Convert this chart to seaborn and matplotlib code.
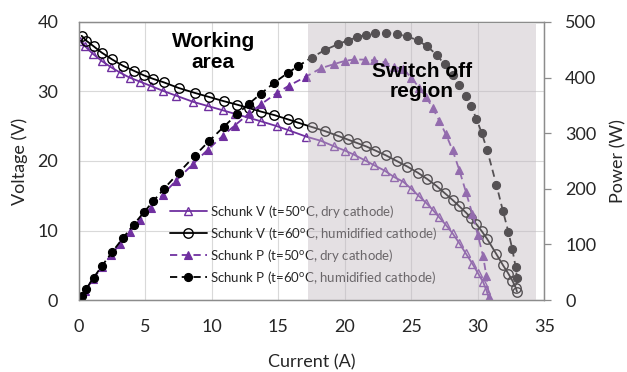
import matplotlib
matplotlib.use("Agg")
import matplotlib.pyplot as plt
from matplotlib.patches import Rectangle
import seaborn as sns

# Stack current (A), voltage (V) and power (W)
current_60 = [0.2, 0.55, 1.1, 1.7, 2.5, 3.3, 4.1, 4.9, 5.6, 6.4, 7.5, 8.7, 9.8, 10.9, 11.9,
              12.8, 13.7, 14.7, 15.7, 16.5, 17.5, 18.5, 19.5, 20.2, 20.9, 21.6, 22.3, 23.1,
              23.9, 24.7, 25.5, 26.2, 26.9, 27.5, 28.1, 28.6, 29.1, 29.5, 29.9, 30.3, 30.7,
              31.4, 31.9, 32.3, 32.6, 32.85, 32.95]
voltage_60 = [38.0, 37.3, 36.5, 35.6, 34.6, 33.7, 33.0, 32.3, 31.8, 31.3, 30.5, 29.8, 29.2,
              28.6, 28.1, 27.6, 27.1, 26.6, 26.0, 25.5, 24.9, 24.3, 23.6, 23.1, 22.6, 22.1,
              21.5, 20.8, 20.0, 19.2, 18.3, 17.4, 16.4, 15.4, 14.4, 13.5, 12.6, 11.8, 10.9,
              9.9, 8.8, 6.6, 5.0, 3.8, 2.8, 1.8, 1.2]
power_60 = [7.6, 20.5, 40.2, 60.5, 86.5, 111.2, 135.3, 158.3, 178.1, 200.3, 228.8, 259.3,
            286.2, 311.7, 334.4, 353.3, 371.3, 391.0, 408.2, 420.8, 435.8, 449.6, 460.2,
            466.6, 472.3, 477.4, 479.5, 480.5, 478.0, 474.2, 466.7, 455.9, 441.2, 423.5,
            404.6, 386.1, 366.7, 348.1, 325.9, 300.0, 270.2, 207.2, 159.5, 122.7, 91.3,
            59.1, 39.5]

current_50 = [0.1, 0.45, 1.05, 1.7, 2.4, 3.1, 3.8, 4.6, 5.4, 6.3, 7.3, 8.6, 9.7, 10.8, 11.7,
              12.8, 13.7, 14.9, 15.8, 17.1, 18.2, 19.2, 20.0, 20.7, 21.5, 22.2, 23.0, 23.7,
              24.4, 25.0, 25.6, 26.1, 26.6, 27.1, 27.6, 28.1, 28.6, 29.1, 29.6, 30.0, 30.4,
              30.65, 30.85]
voltage_50 = [37.2, 36.5, 35.4, 34.4, 33.5, 32.7, 32.0, 31.4, 30.8, 30.1, 29.4, 28.5, 27.9,
              27.3, 26.8, 26.2, 25.7, 25.0, 24.4, 23.5, 22.9, 22.1, 21.5, 20.9, 20.1, 19.4,
              18.6, 17.7, 17.0, 16.0, 14.9, 14.0, 13.0, 11.9, 10.8, 9.6, 8.2, 6.7, 5.2, 3.9,
              2.6, 1.4, 0.2]
power_50 = [3.7, 16.4, 37.2, 58.5, 80.4, 101.4, 121.6, 144.4, 166.3, 189.6, 214.6, 245.1,
            270.6, 294.8, 313.6, 335.4, 352.1, 372.5, 385.5, 401.9, 416.8, 424.3, 430.0,
            432.6, 432.2, 430.7, 427.8, 419.5, 414.8, 400.0, 381.4, 365.4, 345.8, 322.5,
            298.1, 269.8, 234.5, 195.0, 153.9, 117.0, 79.0, 42.9, 6.2]

series_labels = [
    r"Schunk V (t=50$^{\mathrm{o}}$C, dry cathode)",
    r"Schunk V (t=60$^{\mathrm{o}}$C, humidified cathode)",
    r"Schunk P (t=50$^{\mathrm{o}}$C, dry cathode)",
    r"Schunk P (t=60$^{\mathrm{o}}$C, humidified cathode)",
]
x_ticks = [0, 5, 10, 15, 20, 25, 30, 35]
v_ticks = [0, 10, 20, 30, 40]
p_ticks = [0, 100, 200, 300, 400, 500]

# Shaded switch-off band (A)
switch_off_start = 17.2
switch_off_end = 34.35

PURPLE = "#7030A0"
TEXT = "#262626"
SPINE = "#8C8C8C"

sns.set_theme(style="white")
plt.rcParams["font.family"] = ["Lato", "DejaVu Sans"]
plt.rcParams["mathtext.fontset"] = "custom"
plt.rcParams["mathtext.rm"] = "Lato"
plt.rcParams["text.color"] = TEXT

fig = plt.figure(figsize=(6.27, 3.72), dpi=100)
ax1 = fig.add_axes([0.126, 0.1935, 0.742, 0.7475])
ax2 = ax1.twinx()

line_kw = dict(linewidth=1.3, sort=False, estimator=None, legend=False)

sns.lineplot(x=current_50, y=voltage_50, ax=ax1, color=PURPLE, marker="^", markersize=6.3,
             markerfacecolor="none", markeredgecolor=PURPLE, markeredgewidth=1.0, **line_kw)
sns.lineplot(x=current_60, y=voltage_60, ax=ax1, color="black", marker="o", markersize=6.8,
             markerfacecolor="none", markeredgecolor="black", markeredgewidth=1.0, **line_kw)
sns.lineplot(x=current_50, y=power_50, ax=ax2, color=PURPLE, marker="^", markersize=6.3,
             markerfacecolor=PURPLE, markeredgecolor=PURPLE, markeredgewidth=0.8,
             linestyle=(0, (4, 2.5)), **line_kw)
sns.lineplot(x=current_60, y=power_60, ax=ax2, color="black", marker="o", markersize=5.8,
             markerfacecolor="black", markeredgecolor="black", markeredgewidth=0.8,
             linestyle=(0, (4, 2.5)), **line_kw)

ax1.set_xlim(0, 35)
ax1.set_ylim(0, 40)
ax2.set_ylim(0, 500)
ax1.set_xticks(x_ticks)
ax1.set_yticks(v_ticks)
ax2.set_yticks(p_ticks)

ax1.grid(True, color="#D9D9D9", linewidth=0.8)
ax1.set_axisbelow(True)

for ax in (ax1, ax2):
    for s in ax.spines.values():
        s.set_color(SPINE)
        s.set_linewidth(0.9)

ax1.tick_params(axis="both", length=0, labelsize=13, labelcolor=TEXT)
ax1.tick_params(axis="y", pad=15)
ax1.tick_params(axis="x", pad=14)
ax2.tick_params(axis="y", length=5, width=0.9, color=SPINE, direction="out",
                labelsize=13, labelcolor=TEXT, pad=10)

ax1.set_xlabel("Current (A)", fontsize=13, color=TEXT, va="center")
ax1.set_ylabel("Voltage (V)", fontsize=13, color=TEXT, va="center")
ax2.set_ylabel("Power (W)", fontsize=13, color=TEXT, va="center", rotation=90)
ax1.xaxis.set_label_coords(0.5, -0.223)
ax1.yaxis.set_label_coords(-0.127, 0.5)
ax2.yaxis.set_label_coords(1.159, 0.5)

handles = ax1.get_lines()[:2] + ax2.get_lines()[:2]
leg = ax2.legend(handles, series_labels, loc="center left", bbox_to_anchor=(0.195, 0.2),
                 frameon=False, fontsize=9.5, handlelength=2.8, handletextpad=0.25,
                 labelspacing=0.38, borderpad=0, borderaxespad=0)
leg.set_zorder(5)

# Translucent band laid over curves and legend
band = Rectangle((switch_off_start, 0), switch_off_end - switch_off_start, 39.7 * 500 / 40,
                 facecolor="#C2B9C0", alpha=0.44, edgecolor="none", zorder=6)
ax2.add_patch(band)

ax2.text(10.1, 35.7 * 500 / 40, "Working\narea", ha="center", va="center", fontsize=15,
         fontweight="bold", family=["Liberation Sans", "DejaVu Sans"], color="black",
         linespacing=1.1, zorder=7)
ax2.text(25.8, 31.4 * 500 / 40, "Switch off\nregion", ha="center", va="center", fontsize=15,
         fontweight="bold", family=["Liberation Sans", "DejaVu Sans"], color="black",
         linespacing=1.1, zorder=7)

fig.savefig("out.png", dpi=100, facecolor="white")
